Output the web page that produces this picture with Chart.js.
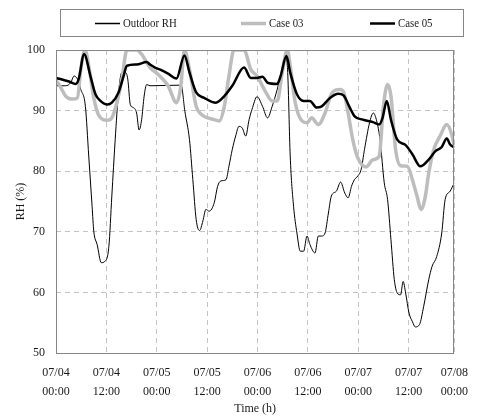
<!DOCTYPE html>
<html>
<head>
<meta charset="utf-8">
<script src="https://cdn.jsdelivr.net/npm/chart.js@4.4.1/dist/chart.umd.min.js"></script>
<style>
  html, body { margin: 0; padding: 0; background: #fff; }
</style>
</head>
<body>
<canvas id="c" width="479" height="419"></canvas>
<script>
// x axis: hours since 07/04 00:00
const tickHours = [0, 12, 24, 36, 48, 60, 72, 84, 94.9];
const tickLabels = [
  ['07/04', '00:00'], ['07/04', '12:00'], ['07/05', '00:00'], ['07/05', '12:00'],
  ['07/06', '00:00'], ['07/06', '12:00'], ['07/07', '00:00'], ['07/07', '12:00'],
  ['07/08', '00:00']
];

const outdoorHours = [0, 2.3, 3.5, 4.3, 5.1, 5.9, 7, 7.8, 8.6, 9, 9.8, 10.8, 11.6, 12.6, 13.3, 14.1, 14.9, 15.7, 16.5, 17.1,
  17.7, 18.4, 19.2, 19.8, 20.4, 21, 21.6, 22.4, 29.8, 30.7, 31.8, 32.6, 33.4, 34.2, 35, 35.7, 36.5, 37.7, 38.5,
  39.3, 40.5, 41.2, 42, 42.8, 43.6, 44.4, 45.2, 46, 46.7, 47.9, 49.2, 50.4, 51.5, 52.7, 53.9, 54.7, 55.2, 55.8, 56.6,
  57.4, 58.2, 59, 59.8, 60.5, 61.7, 62.5, 63.3, 64.1, 64.9, 65.6, 66.8, 67.8, 68.8, 69.6, 70.4, 71.1, 71.9, 72.7, 73.5,
  74.7, 75.6, 76.4, 77.2, 78.2, 79, 79.8, 80.6, 81.3, 82.1, 82.7, 83.3, 84.1, 84.9, 85.6, 86.6, 87.6, 88.8, 89.6, 90.7,
  91.9, 92.7, 93.9, 94.9];
const outdoorRH = [94.1, 94.1, 94.6, 95.7, 95.2, 93.5, 90.7, 82.5, 74.2, 70.1, 67.9, 64.9, 65.1, 67.6, 75.9, 85.2, 93.0, 96.3, 96.3, 95.2,
  91.0, 90.5, 89.6, 86.8, 88.5, 92.4, 94.3, 94.1, 94.2, 89.9, 85.2, 78.6, 72.0, 70.2, 71.8, 73.7, 73.4, 74.8, 77.5,
  78.4, 78.6, 80.8, 83.6, 85.8, 87.4, 87.1, 85.8, 88.5, 90.2, 92.3, 90.7, 88.8, 90.7, 93.5, 96.8, 99.0, 96.3, 82.5, 74.2,
  69.8, 66.8, 66.8, 69.3, 67.9, 66.5, 69.3, 69.3, 69.8, 73.1, 75.9, 76.7, 78.2, 76.4, 75.6, 77.5, 78.6, 79.2, 80.3, 83.6,
  88.0, 89.6, 88.3, 85.2, 78.1, 75.3, 68.7, 62.1, 59.9, 59.6, 61.8, 59.9, 56.6, 55.2, 54.3, 54.7, 57.7, 62.1, 64.3, 65.9,
  69.8, 75.3, 76.7, 78.1];

const case03Hours = [0, 1, 2.3, 3.9, 5.1, 5.9, 6.9, 7.8, 9, 10.2, 12.2, 13.3, 14.5, 15.7, 16.9, 19.2, 20.4, 22.4, 24.3, 26.7,
  28.7, 29.7, 30.6, 31.8, 33.4, 34.6, 37.7, 38.9, 40.1, 41.2, 42.4, 44.8, 46.4, 47.9, 50, 51.5, 52.7, 53.9, 55.1, 55.8,
  57, 58.6, 59.8, 60.9, 62.5, 64.1, 65.6, 67.6, 68.5, 69.6, 70.7, 71.9, 73.9, 75.5, 77, 78, 79, 79.8, 80.9, 82.1,
  83.7, 84.9, 86, 87, 88, 88.8, 90, 91.5, 93.1, 94.3, 94.9];
const case03RH = [95.0, 94.0, 92.4, 91.9, 92.1, 96.8, 100, 97.4, 92.1, 89.2, 88.4, 88.8, 91.3, 95.2, 100, 100, 99.3, 97.1, 96.0, 94.1,
  91.3, 93.8, 100, 96.8, 90.7, 89.4, 88.5, 88.3, 90.7, 95.7, 100, 100, 96.8, 95.7, 93.0, 91.6, 91.6, 96.3, 100, 97.4,
  91.3, 88.3, 88.0, 88.8, 87.7, 89.6, 92.7, 93.5, 93.1, 89.6, 85.2, 82.2, 80.7, 81.9, 82.5, 90.7, 94.3, 92.4, 83.6, 80.9,
  80.8, 78.6, 75.9, 73.7, 75.9, 79.7, 83.6, 85.8, 87.7, 86.0, 84.1];

const case05Hours = [0, 3.1, 4.7, 5.4, 6.7, 8.2, 9.4, 10.6, 12.2, 13.3, 14.9, 16.1, 16.9, 19.2, 21.6, 22.4, 23.6, 24.7, 26.7, 28.7,
  30.6, 31.8, 33.4, 35.3, 38.1, 40.1, 42.0, 44.8, 46.4, 47.9, 49.2, 50.4, 52.7, 53.5, 54.9, 55.8, 57.4, 59, 60.5, 62.1,
  63.3, 65.3, 67.2, 68.5, 70, 71.1, 73.1, 75.5, 77, 77.8, 78.8, 79.8, 81.3, 83.3, 84.9, 86.8, 88.8, 90.4, 91.9, 93.1,
  93.9, 94.9];
const case05RH = [95.4, 94.8, 94.4, 95.2, 99.3, 95.7, 92.7, 91.6, 91.0, 91.3, 93.0, 95.7, 97.4, 97.6, 98.0, 97.6, 97.1, 96.8, 96.1, 95.3,
  99.1, 96.3, 93.0, 92.1, 91.3, 92.4, 94.1, 97.1, 95.4, 95.4, 95.6, 94.6, 94.4, 95.7, 99.0, 96.3, 92.7, 91.6, 91.6, 90.5,
  90.7, 92.1, 92.8, 92.5, 90.5, 89.1, 88.5, 88.1, 87.7, 88.8, 91.6, 88.5, 85.2, 84.3, 82.8, 80.8, 81.9, 83.3, 84.0, 85.4,
  84.4, 83.9];

const serif = "'Liberation Serif', 'Times New Roman', serif";
const textColor = '#1a1a1a';

const toPoints = (xs, ys) => xs.map((x, i) => ({ x, y: ys[i] }));

// frame round the plot + boxed legend on top
const frameLegend = {
  id: 'frameLegend',
  afterDraw(chart) {
    const ctx = chart.ctx;
    const a = chart.chartArea;
    ctx.save();
    ctx.strokeStyle = '#868686';
    ctx.lineWidth = 1;
    ctx.setLineDash([]);
    ctx.strokeRect(Math.round(a.left) + 0.5, Math.round(a.top) + 0.5,
      Math.round(a.right - a.left) - 1, Math.round(a.bottom - a.top));
    ctx.strokeRect(60.5, 9.5, 403, 27);

    const slots = [95, 241, 370];
    chart.data.datasets.forEach((ds, i) => {
      const x0 = slots[i];
      ctx.beginPath();
      ctx.strokeStyle = ds.borderColor;
      ctx.lineWidth = i === 0 ? 1.5 : ds.borderWidth;
      ctx.moveTo(x0, 23.5);
      ctx.lineTo(x0 + 25, 23.5);
      ctx.stroke();
      ctx.save();
      ctx.translate(x0 + 28, 23.5);
      ctx.scale(0.8, 1);
      ctx.fillStyle = textColor;
      ctx.font = '13.5px ' + serif;
      ctx.textBaseline = 'middle';
      ctx.fillText(ds.label, 0, 0);
      ctx.restore();
    });
    ctx.restore();
  }
};

new Chart(document.getElementById('c'), {
  type: 'line',
  data: {
    datasets: [
      { label: 'Outdoor RH', data: toPoints(outdoorHours, outdoorRH), borderColor: '#000000', borderWidth: 1, order: 3 },
      { label: 'Case 03', data: toPoints(case03Hours, case03RH), borderColor: '#bdbdbd', borderWidth: 3.5, order: 2 },
      { label: 'Case 05', data: toPoints(case05Hours, case05RH), borderColor: '#000000', borderWidth: 2.5, order: 1 }
    ]
  },
  options: {
    responsive: false,
    animation: false,
    layout: { padding: { top: 50, right: 20, left: 0, bottom: 0 } },
    elements: {
      point: { radius: 0 },
      line: { cubicInterpolationMode: 'monotone', fill: false }
    },
    plugins: { legend: { display: false }, tooltip: { enabled: false } },
    scales: {
      x: {
        type: 'linear',
        min: 0,
        max: 94.9,
        afterBuildTicks: s => { s.ticks = tickHours.map(v => ({ value: v })); },
        afterFit: s => { s.height = 66; },
        grid: { color: '#c4c4c4', drawTicks: false },
        border: { display: false, dash: [5, 4] },
        ticks: {
          autoSkip: false, maxRotation: 0, padding: 11, color: textColor,
          font: { family: serif, size: 12, lineHeight: 1.55 },
          callback: (v, i) => tickLabels[i]
        },
        title: {
          display: true, text: 'Time (h)', color: textColor,
          font: { family: serif, size: 12 }, padding: { top: 0, bottom: 3 }
        }
      },
      y: {
        min: 50,
        max: 100,
        afterFit: s => { s.width = 56; },
        grid: { color: '#c4c4c4', drawTicks: false },
        border: { display: false, dash: [5, 4] },
        ticks: { stepSize: 10, padding: 11, color: textColor, font: { family: serif, size: 12 } },
        title: {
          display: true, text: 'RH (%)', color: textColor,
          font: { family: serif, size: 12 }, padding: { top: 14, bottom: 0 }
        }
      }
    }
  },
  plugins: [frameLegend]
});
</script>
</body>
</html>
